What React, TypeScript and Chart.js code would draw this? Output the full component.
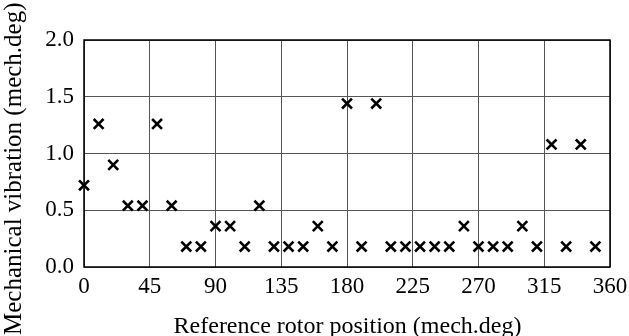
import React, { useEffect, useRef } from "react";
import { Chart, registerables } from "chart.js";

Chart.register(...registerables);

const positions = [0, 10, 20, 30, 40, 50, 60, 70, 80, 90, 100, 110, 120, 130, 140, 150, 160, 170, 180, 190, 200, 210, 220, 230, 240, 250, 260, 270, 280, 290, 300, 310, 320, 330, 340, 350];
const vibration = [0.72, 1.26, 0.9, 0.54, 0.54, 1.26, 0.54, 0.18, 0.18, 0.36, 0.36, 0.18, 0.54, 0.18, 0.18, 0.18, 0.36, 0.18, 1.44, 0.18, 1.44, 0.18, 0.18, 0.18, 0.18, 0.18, 0.36, 0.18, 0.18, 0.18, 0.36, 0.18, 1.08, 0.18, 1.08, 0.18];
const xTicks = [0, 45, 90, 135, 180, 225, 270, 315, 360];
const yTicks = [0, 0.5, 1.0, 1.5, 2.0];
const xTitle = "Reference rotor position (mech.deg)";
const yTitle = "Mechanical vibration (mech.deg)";

const FONT = "'Liberation Serif', 'Times New Roman', serif";

export default function App() {
  const ref = useRef<HTMLCanvasElement | null>(null);
  useEffect(() => {
    document.body.style.margin = "0";
    const canvas = ref.current!;
    const frame = {
      id: "frame",
      beforeDatasetsDraw(chart: any) {
        const { ctx, chartArea: a } = chart;
        ctx.save();
        ctx.strokeStyle = "#000";
        ctx.lineWidth = 1.5;
        ctx.strokeRect(a.left, a.top, a.right - a.left, a.bottom - a.top);
        ctx.restore();
      },
      afterDraw(chart: any) {
        const { ctx, chartArea: a } = chart;
        ctx.save();
        ctx.fillStyle = "#000";
        ctx.font = `24px ${FONT}`;
        ctx.textAlign = "center";
        ctx.textBaseline = "alphabetic";
        ctx.fillText(xTitle, (a.left + a.right) / 2 + 0.5, 333);
        ctx.translate(21, 335);
        ctx.rotate(-Math.PI / 2);
        ctx.textAlign = "left";
        ctx.font = `25px ${FONT}`;
        ctx.fillText(yTitle, 0, 0);
        ctx.restore();
      },
    };
    const chart = new Chart(canvas, {
      type: "scatter",
      data: {
        datasets: [
          {
            data: positions.map((p, i) => ({ x: p, y: vibration[i] })),
            pointStyle: "crossRot",
            pointRadius: 7,
            pointBorderWidth: 2.6,
            borderColor: "#000",
            backgroundColor: "#000",
            clip: false as any,
          },
        ],
      },
      options: {
        animation: false,
        responsive: false,
        events: [],
        layout: { padding: { top: 40, right: 19, left: 0, bottom: 0 } },
        plugins: { legend: { display: false }, tooltip: { enabled: false } },
        scales: {
          x: {
            type: "linear",
            min: 0,
            max: 360,
            afterBuildTicks: (s: any) => {
              s.ticks = xTicks.map((v) => ({ value: v }));
            },
            afterFit: (s: any) => {
              s.height = 69;
              s.paddingRight = 0;
              s.paddingLeft = 0;
            },
            ticks: {
              color: "#000",
              font: { family: FONT, size: 23 },
              padding: 6,
              maxRotation: 0,
              callback: (v: any) => String(v),
            },
            grid: { color: "#555", lineWidth: 1, drawTicks: false },
            border: { display: false },
          },
          y: {
            type: "linear",
            min: 0,
            max: 2,
            afterBuildTicks: (s: any) => {
              s.ticks = yTicks.map((v) => ({ value: v }));
            },
            afterFit: (s: any) => {
              s.width = 84;
              s.paddingTop = 0;
              s.paddingBottom = 0;
            },
            ticks: {
              color: "#000",
              font: { family: FONT, size: 23 },
              padding: 10,
              callback: (v: any) => Number(v).toFixed(1),
            },
            grid: { color: "#555", lineWidth: 1, drawTicks: false },
            border: { display: false },
          },
        },
      },
      plugins: [frame],
    });
    return () => chart.destroy();
  }, []);
  return (
    <div style={{ position: "fixed", left: 0, top: 0, width: 629, height: 336, background: "#fff" }}>
      <canvas ref={ref} width={629} height={336} style={{ display: "block" }} />
    </div>
  );
}
